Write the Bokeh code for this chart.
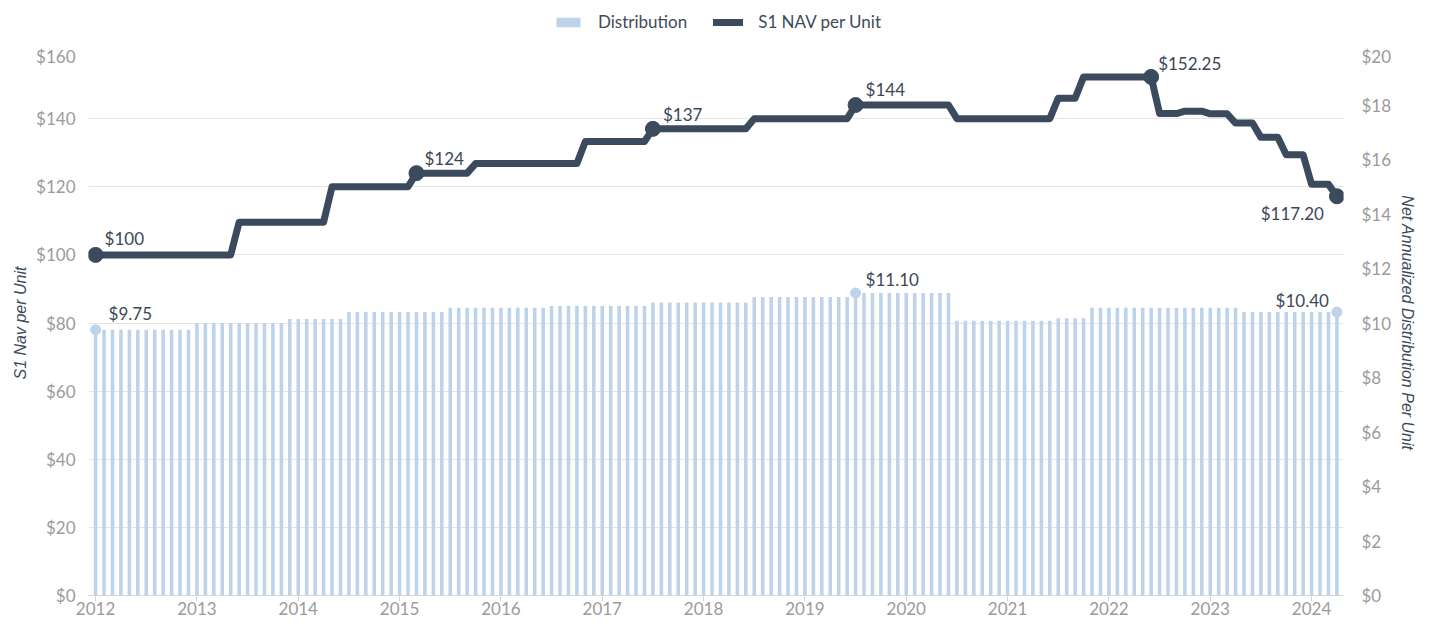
import pandas as pd
from bokeh.plotting import figure
from bokeh.layouts import column
from bokeh.models import (Range1d, LinearAxis, FixedTicker, NumeralTickFormatter,
                          Legend, LegendItem, ColumnDataSource)
from bokeh.core.properties import value
from bokeh.embed import file_html
from bokeh.resources import INLINE

# ---------------- data ----------------
months = pd.date_range("2012-01-01", "2024-04-01", freq="MS")  # monthly, 148 points

nav = [
    100, 100, 100, 100, 100, 100, 100, 100, 100, 100, 100, 100,                      # 2012
    100, 100, 100, 100, 100, 109.6, 109.6, 109.6, 109.6, 109.6, 109.6, 109.6,       # 2013
    109.6, 109.6, 109.6, 109.6, 120, 120, 120, 120, 120, 120, 120, 120,             # 2014
    120, 120, 124, 124, 124, 124, 124, 124, 124, 126.8, 126.8, 126.8,               # 2015
    126.8, 126.8, 126.8, 126.8, 126.8, 126.8, 126.8, 126.8, 126.8, 126.8, 133.3, 133.3,  # 2016
    133.3, 133.3, 133.3, 133.3, 133.3, 133.3, 137, 137, 137, 137, 137, 137,         # 2017
    137, 137, 137, 137, 137, 137, 140, 140, 140, 140, 140, 140,                     # 2018
    140, 140, 140, 140, 140, 140, 144, 144, 144, 144, 144, 144,                     # 2019
    144, 144, 144, 144, 144, 144, 140, 140, 140, 140, 140, 140,                     # 2020
    140, 140, 140, 140, 140, 140, 146, 146, 146, 152.25, 152.25, 152.25,            # 2021
    152.25, 152.25, 152.25, 152.25, 152.25, 152.25, 141.5, 141.5, 141.5, 142.2, 142.2, 142.2,  # 2022
    141.4, 141.4, 141.4, 138.7, 138.7, 138.7, 134.5, 134.5, 134.5, 129.4, 129.4, 129.4,  # 2023
    120.7, 120.7, 120.7, 117.2,                                                     # 2024
]

distribution = [
    9.75, 9.75, 9.75, 9.75, 9.75, 9.75, 9.75, 9.75, 9.75, 9.75, 9.75, 9.75,         # 2012
    10.00, 10.00, 10.00, 10.00, 10.00, 10.00, 10.00, 10.00, 10.00, 10.00, 10.00, 10.15,  # 2013
    10.15, 10.15, 10.15, 10.15, 10.15, 10.15, 10.40, 10.40, 10.40, 10.40, 10.40, 10.40,  # 2014
    10.40, 10.40, 10.40, 10.40, 10.40, 10.40, 10.56, 10.56, 10.56, 10.56, 10.56, 10.56,  # 2015
    10.56, 10.56, 10.56, 10.56, 10.56, 10.56, 10.62, 10.62, 10.62, 10.62, 10.62, 10.62,  # 2016
    10.62, 10.62, 10.62, 10.62, 10.62, 10.62, 10.75, 10.75, 10.75, 10.75, 10.75, 10.75,  # 2017
    10.75, 10.75, 10.75, 10.75, 10.75, 10.75, 10.95, 10.95, 10.95, 10.95, 10.95, 10.95,  # 2018
    10.95, 10.95, 10.95, 10.95, 10.95, 10.95, 11.10, 11.10, 11.10, 11.10, 11.10, 11.10,  # 2019
    11.10, 11.10, 11.10, 11.10, 11.10, 11.10, 10.08, 10.08, 10.08, 10.08, 10.08, 10.08,  # 2020
    10.08, 10.08, 10.08, 10.08, 10.08, 10.08, 10.17, 10.17, 10.17, 10.17, 10.56, 10.56,  # 2021
    10.56, 10.56, 10.56, 10.56, 10.56, 10.56, 10.56, 10.56, 10.56, 10.56, 10.56, 10.56,  # 2022
    10.56, 10.56, 10.56, 10.56, 10.40, 10.40, 10.40, 10.40, 10.40, 10.40, 10.40, 10.40,  # 2023
    10.40, 10.40, 10.40, 10.40,                                                     # 2024
]

nav_label_idx = [0, 38, 66, 90, 125, 147]
nav_label_text = ["$100", "$124", "$137", "$144", "$152.25", "$117.20"]
dist_label_idx = [0, 90, 147]
dist_label_text = ["$9.75", "$11.10", "$10.40"]

year_ticks = [2012, 2013, 2014, 2015, 2016, 2017, 2018, 2019, 2020, 2021, 2022, 2023, 2024]
nav_ticks = [0, 20, 40, 60, 80, 100, 120, 140, 160]
dist_ticks = [0, 2, 4, 6, 8, 10, 12, 14, 16, 18, 20]

# ---------------- styling ----------------
LINE_C = "#3b4b5d"
BAR_C = "#bcd3ea"
TICK_C = "#9b9b9b"
LABEL_C = "#3b4757"
GRID_C = "#e5e5e5"
FONT = "Lato"
FS = "17px"
W = 1419
X_RANGE = (2011.93, 2024.315)

x = [d.year + (d.month - 1) / 12 for d in months]
src = ColumnDataSource(dict(x=x, nav=nav, dist=distribution))

p = figure(width=W, height=572, output_backend="svg", toolbar_location=None,
           x_range=Range1d(*X_RANGE), y_range=Range1d(0, 160),
           min_border_left=88, min_border_right=74, min_border_top=5, min_border_bottom=20)
p.extra_y_ranges = {"dist": Range1d(0, 20)}
p.outline_line_color = None
p.background_fill_color = "white"
p.border_fill_color = "white"

# bars
bar_style = dict(fill_color=BAR_C, line_color=None)
p.vbar(x="x", top="dist", width=0.035, source=src, y_range_name="dist", **bar_style)
dx = [x[i] for i in dist_label_idx]
dy = [distribution[i] for i in dist_label_idx]
p.scatter(dx, dy, size=10, color=BAR_C, y_range_name="dist")

# line
line_style = dict(line_width=7, line_color=LINE_C, line_join="round", line_cap="round")
p.line(x="x", y="nav", source=src, **line_style)
nx = [x[i] for i in nav_label_idx]
ny = [nav[i] for i in nav_label_idx]
p.scatter(nx, ny, size=15, color=LINE_C)

# data labels
lab_style = dict(text_font=value(FONT), text_font_size=FS, text_color=LABEL_C)
offs_nav = [(9, -16, "left"), (8, -15, "left"), (10, -14, "left"),
            (10, -16, "left"), (7, -13, "left"), (-13, 17, "right")]
for i in range(len(nav_label_idx)):
    ox, oy, al = offs_nav[i]
    p.text([nx[i]], [ny[i]], text=[nav_label_text[i]], x_offset=ox, y_offset=oy,
           text_align=al, text_baseline="middle", **lab_style)
offs_dist = [(13, -16, "left"), (10, -14, "left"), (-8, -12, "right")]
for i in range(len(dist_label_idx)):
    ox, oy, al = offs_dist[i]
    p.text([dx[i]], [dy[i]], text=[dist_label_text[i]], x_offset=ox, y_offset=oy,
           text_align=al, text_baseline="middle", y_range_name="dist", **lab_style)

# grid
p.xgrid.visible = False
p.ygrid.ticker = FixedTicker(ticks=nav_ticks)
p.ygrid.grid_line_color = GRID_C

# axes
xa = p.xaxis[0]
xa.ticker = FixedTicker(ticks=year_ticks)
xa.formatter = NumeralTickFormatter(format="0")
xa.axis_line_color = "#d5d5d5"
xa.major_tick_line_color = "#d5d5d5"
xa.major_tick_out = 6
xa.major_tick_in = 0
xa.minor_tick_line_color = None
xa.major_label_standoff = 0
xa.major_label_text_font = FONT
xa.major_label_text_font_size = FS
xa.major_label_text_color = TICK_C

ya = p.yaxis[0]
ya.ticker = FixedTicker(ticks=nav_ticks)
ya.formatter = NumeralTickFormatter(format="$0")
ya.axis_line_color = None
ya.major_tick_line_color = None
ya.minor_tick_line_color = None
ya.major_label_standoff = 7
ya.major_label_text_font = FONT
ya.major_label_text_font_size = FS
ya.major_label_text_color = TICK_C
ya.axis_label = "S1 Nav per Unit"
ya.axis_label_text_font = "Liberation Sans"
ya.axis_label_text_font_style = "italic"
ya.axis_label_text_font_size = "16px"
ya.axis_label_text_color = LINE_C
ya.axis_label_standoff = 4

ra = LinearAxis(y_range_name="dist", ticker=FixedTicker(ticks=dist_ticks),
                formatter=NumeralTickFormatter(format="$0"))
ra.axis_line_color = None
ra.major_tick_line_color = None
ra.minor_tick_line_color = None
ra.major_label_standoff = 12
ra.major_label_text_font = FONT
ra.major_label_text_font_size = FS
ra.major_label_text_color = TICK_C
ra.axis_label = "Net Annualized Distribution Per Unit"
ra.axis_label_text_font = "Liberation Sans"
ra.axis_label_text_font_style = "italic"
ra.axis_label_text_font_size = "16px"
ra.axis_label_text_color = LINE_C
ra.axis_label_standoff = 5
p.add_layout(ra, "right")

# legend strip above the chart: its swatch renderers reuse the series data,
# but its y range (above the data) keeps them out of view, so only the legend shows
lg = figure(width=W, height=45, output_backend="svg", toolbar_location=None,
            x_axis_location=None, y_axis_location=None,
            x_range=Range1d(*X_RANGE), y_range=Range1d(1000, 1001),
            min_border_left=0, min_border_right=0, min_border_top=0, min_border_bottom=0)
lg.grid.visible = False
lg.outline_line_color = None
sw_bar = lg.vbar(x="x", top="dist", width=0.035, source=src, **bar_style)
sw_line = lg.line(x="x", y="nav", source=src, **line_style)
legend = Legend(items=[LegendItem(label="Distribution", renderers=[sw_bar]),
                       LegendItem(label="S1 NAV per Unit", renderers=[sw_line])],
                orientation="horizontal", location=(465, 13),
                glyph_width=30, glyph_height=12, label_height=20, label_standoff=15,
                spacing=26, padding=2, margin=0,
                label_text_font=FONT, label_text_font_size="17px", label_text_color="#404b5a",
                border_line_color=None, background_fill_alpha=0)
lg.add_layout(legend, "center")

layout = column(lg, p, spacing=0)
open("out.html", "w").write(file_html(layout, INLINE))
